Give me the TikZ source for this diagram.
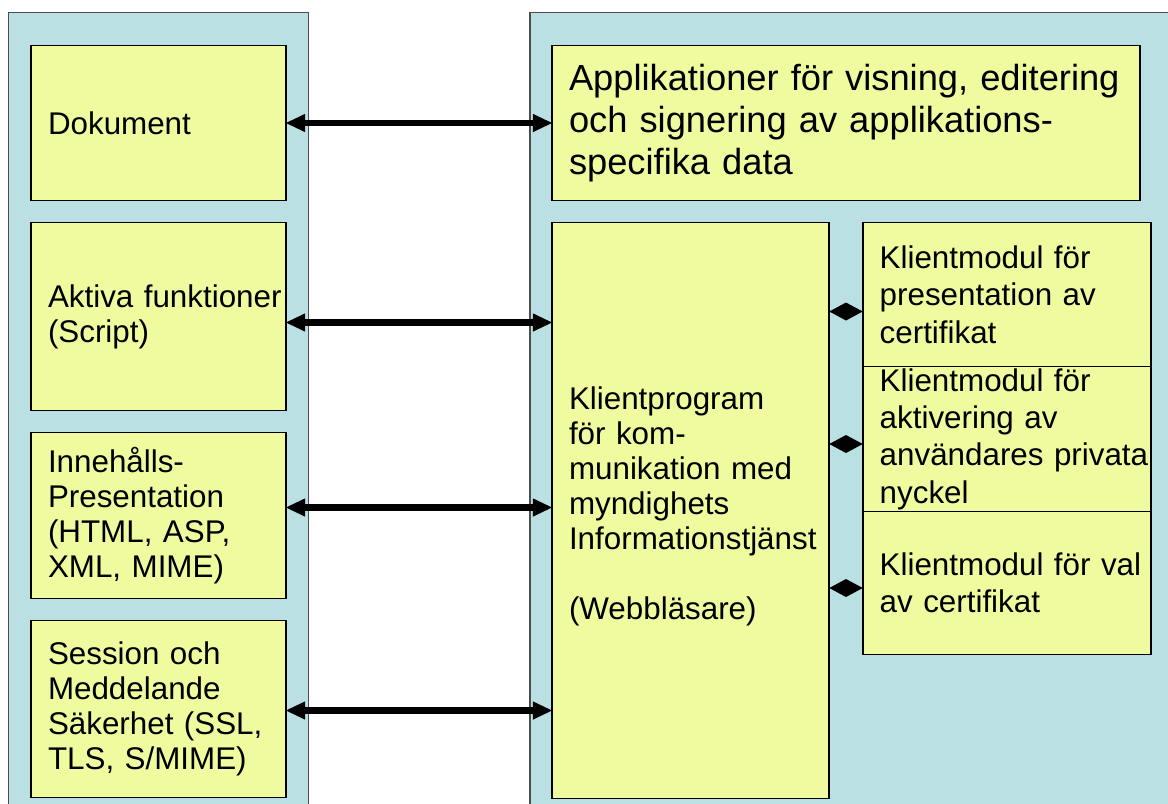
\documentclass[tikz,border=0pt]{standalone}
\usepackage{fontspec}
\setmainfont{Liberation Sans}
\usetikzlibrary{arrows.meta, positioning, calc}
\definecolor{panelBlue}{RGB}{187,224,227}
\definecolor{boxYellow}{RGB}{240,250,158}
\definecolor{edgeGray}{gray}{0.3}
\newlength\unitpx
\setlength\unitpx{0.025cm}

\begin{document}
\begin{tikzpicture}[x=0.025cm, y=-0.025cm,
    box/.style={draw=black, line width=1.4pt, fill=boxYellow, align=left,
        inner xsep=17\unitpx, inner ysep=0pt, outer sep=0pt,
        font=\fontsize{22.3}{24.9}\selectfont},
    modbox/.style={box, text width=254.5\unitpx, font=\fontsize{22.3}{26.6}\selectfont},
    panel/.style={fill=panelBlue, draw=edgeGray, line width=0.9pt},
    link/.style={line width=4.5pt,
        {Triangle[length=0.48cm, width=0.46cm, line width=0pt]}-{Triangle[length=0.48cm, width=0.46cm, line width=0pt]}},
    joint/.style={line width=0.4pt, -{Diamond[length=0.835cm, width=0.45cm, line width=0pt]}}]
    \useasboundingbox (0,0) rectangle (1168,803);
    \clip (0,0) rectangle (1168,803);

    % Panels
    \path[panel] (8.7,12.3) rectangle (308.3,830);
    \path[panel] (530,12.3) rectangle (1190,830);

    % Left column
    \node[box, anchor=north west, text width=221\unitpx, minimum height=155\unitpx] (dok) at (31,45.5) {Dokument};
    \node[box, text width=221\unitpx, minimum height=188\unitpx, below=22\unitpx of dok] (akt) {\mbox{Aktiva funktioner}\\(Script)};
    \node[box, text width=221\unitpx, minimum height=166\unitpx, below=22\unitpx of akt] (inn) {Innehålls-\\Presentation\\(HTML, ASP,\\XML, MIME)};
    \node[box, text width=221\unitpx, minimum height=177\unitpx, below=22\unitpx of inn] (ses) {Session och\\Meddelande\\Säkerhet (SSL,\\TLS, S/MIME)};

    % Right column
    \node[box, anchor=north west, text width=554\unitpx, minimum height=155\unitpx,
        font=\fontsize{25.8}{29.7}\selectfont] (app) at (552,45.5)
        {Applikationer för visning, editering\\och signering av applikations-\\specifika data};
    \node[box, text width=243\unitpx, minimum height=576\unitpx, below right=22\unitpx and 0pt of app.south west] (prog)
        {Klientprogram\\för kom-\\munikation med\\myndighets\\\mbox{Informationstjänst}\\[24.9pt](Webbläsare)\\[-14pt]\mbox{}};
    \node[modbox, minimum height=144\unitpx, below right=0pt and 33.7\unitpx of prog.north east] (mod1)
        {Klientmodul för\\presentation av\\certifikat};
    \node[modbox, minimum height=145\unitpx, below=0pt of mod1] (mod2)
        {Klientmodul för\\aktivering av\\\mbox{användares privata}\\nyckel};
    \node[modbox, minimum height=143\unitpx, below=0pt of mod2] (mod3)
        {\mbox{Klientmodul för val}\\av certifikat};

    % Links
    \draw[link] (dok.east) -- (dok.east -| app.west);
    \draw[link] ($(akt.east)+(0,6)$) -- ($(akt.east -| prog.west)+(0,6)$);
    \draw[link] ($(inn.east)+(0,-8)$) -- ($(inn.east -| prog.west)+(0,-8)$);
    \draw[link] ($(ses.east)+(0,1.5)$) -- ($(ses.east -| prog.west)+(0,1.5)$);

    % Module joints
    \draw[joint] ($(mod1.west -| prog.east)+(0,17)$) -- ($(mod1.west)+(0,17)$);
    \draw[joint] ($(mod2.west -| prog.east)+(0,5)$) -- ($(mod2.west)+(0,5)$);
    \draw[joint] ($(mod3.west -| prog.east)+(0,5)$) -- ($(mod3.west)+(0,5)$);
\end{tikzpicture}
\end{document}
